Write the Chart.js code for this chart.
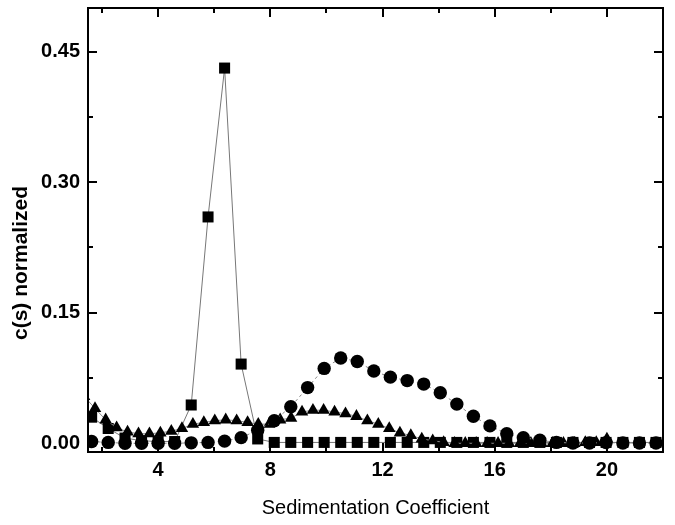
<!DOCTYPE html>
<html>
<head>
<meta charset="utf-8">
<script src="https://cdn.jsdelivr.net/npm/chart.js@4.4.1/dist/chart.umd.min.js"></script>
<style>
html,body{margin:0;padding:0;background:#fff;}
#wrap{width:675px;height:525px;}
</style>
</head>
<body>
<div id="wrap"><canvas id="c" width="675" height="525"></canvas></div>
<script>
// ---- data ----
const xTickValues = [4, 8, 12, 16, 20];
const xMinorValues = [2, 6, 10, 14, 18];
const yTickValues = [0, 0.15, 0.30, 0.45];
const yTickLabels = ['0.00', '0.15', '0.30', '0.45'];
const yMinorValues = [0.075, 0.225, 0.375];
const xTitle = 'Sedimentation Coefficient';
const yTitle = 'c(s) normalized';

// sedimentation coefficients shared by the circle and square series
const sGrid = [1.63, 2.22, 2.82, 3.41, 4.00, 4.59, 5.18, 5.78, 6.37, 6.96, 7.55, 8.14, 8.73, 9.33, 9.92,
  10.51, 11.10, 11.69, 12.28, 12.88, 13.47, 14.06, 14.65, 15.24, 15.83, 16.43, 17.02, 17.61, 18.20,
  18.79, 19.38, 19.97, 20.57, 21.16, 21.75];
const circleValues = [0.002, 0.001, 0, 0, 0, 0, 0.0005, 0.001, 0.0025, 0.0065, 0.015, 0.026, 0.042, 0.064, 0.086,
  0.098, 0.094, 0.083, 0.076, 0.072, 0.068, 0.058, 0.045, 0.031, 0.020, 0.011, 0.0065, 0.0035, 0.001,
  0.0003, 0.0003, 0.0008, 0.0003, 0.0003, 0.0003];
const squareValues = [0.030, 0.017, 0.006, 0.003, 0.002, 0.002, 0.044, 0.260, 0.431, 0.091, 0.005, 0.001, 0.001, 0.001, 0.001,
  0.001, 0.001, 0.001, 0.001, 0.001, 0.001, 0.001, 0.001, 0.001, 0.001, 0.001, 0.001, 0.001, 0.001,
  0.001, 0.001, 0.001, 0.001, 0.001, 0.001];

// triangle series
const triangleS = [1.36, 1.75, 2.13, 2.52, 2.91, 3.30, 3.69, 4.08, 4.47, 4.85, 5.24, 5.63, 6.02, 6.41, 6.80,
  7.19, 7.57, 7.96, 8.35, 8.74, 9.13, 9.52, 9.90, 10.29, 10.68, 11.07, 11.46, 11.85, 12.24, 12.62,
  13.01, 13.40, 13.79, 14.18, 14.57, 14.95, 15.34, 15.73, 16.12, 16.51, 16.90, 17.29, 17.67, 18.06,
  18.45, 18.84, 19.23, 19.62, 20.00];
const triangleValues = [0.054, 0.040, 0.027, 0.018, 0.013, 0.011, 0.011, 0.012, 0.014, 0.017, 0.022, 0.024, 0.026, 0.027, 0.026,
  0.024, 0.022, 0.022, 0.027, 0.029, 0.036, 0.038, 0.038, 0.036, 0.034, 0.031, 0.026, 0.022, 0.017, 0.012,
  0.009, 0.005, 0.003, 0.001, 0.000, 0.000, 0.000, 0.000, 0.000, 0.000, 0.000, 0.000, 0.000, 0.000,
  0.000, 0.000, 0.001, 0.001, 0.005];

// ---- chart ----
const FONT = "'Liberation Sans', Arial, Helvetica, sans-serif";
const toPoints = (xs, ys) => xs.map((x, i) => ({x: x, y: ys[i]}));

const framePlugin = {
  id: 'frame',
  afterDraw(chart) {
    const ctx = chart.ctx;
    const a = chart.chartArea;
    const xs = chart.scales.x, ys = chart.scales.y;
    ctx.save();
    ctx.strokeStyle = '#000';
    ctx.lineWidth = 2;
    ctx.strokeRect(a.left, a.top, a.right - a.left, a.bottom - a.top);
    ctx.beginPath();
    const major = 9, minor = 5;
    const xTick = (v, len) => {
      const p = Math.round(xs.getPixelForValue(v));
      ctx.moveTo(p, a.bottom); ctx.lineTo(p, a.bottom - len);
      ctx.moveTo(p, a.top); ctx.lineTo(p, a.top + len);
    };
    const yTick = (v, len) => {
      const p = Math.round(ys.getPixelForValue(v));
      ctx.moveTo(a.left, p); ctx.lineTo(a.left + len, p);
      ctx.moveTo(a.right, p); ctx.lineTo(a.right - len, p);
    };
    xTickValues.forEach(v => xTick(v, major));
    xMinorValues.forEach(v => xTick(v, minor));
    yTickValues.forEach(v => yTick(v, major));
    yMinorValues.forEach(v => yTick(v, minor));
    ctx.stroke();
    // y axis title
    ctx.translate(21, (a.top + a.bottom) / 2 + 33);
    ctx.rotate(-Math.PI / 2);
    ctx.fillStyle = '#000';
    ctx.textAlign = 'center';
    ctx.textBaseline = 'middle';
    ctx.font = 'bold 21px ' + FONT;
    ctx.fillText(yTitle, 0, 0);
    ctx.restore();
  }
};

new Chart(document.getElementById('c'), {
  type: 'scatter',
  data: {
    datasets: [
      {
        label: 'circles',
        data: toPoints(sGrid, circleValues),
        showLine: true,
        borderColor: '#8a8a8a',
        borderWidth: 1,
        borderDash: [3, 3],
        pointStyle: 'circle',
        pointRadius: 6.7,
        pointBackgroundColor: '#000',
        pointBorderColor: '#000',
        pointBorderWidth: 0
      },
      {
        label: 'triangles',
        data: toPoints(triangleS, triangleValues),
        showLine: true,
        borderColor: '#8a8a8a',
        borderWidth: 1,
        pointStyle: 'triangle',
        pointRadius: 7.2,
        pointBackgroundColor: '#000',
        pointBorderColor: '#000',
        pointBorderWidth: 0
      },
      {
        label: 'squares',
        data: toPoints(sGrid, squareValues),
        showLine: true,
        borderColor: '#777',
        borderWidth: 1,
        pointStyle: 'rect',
        pointRadius: 7.8,
        pointBackgroundColor: '#000',
        pointBorderColor: '#000',
        pointBorderWidth: 0
      }
    ]
  },
  options: {
    responsive: false,
    animation: false,
    events: [],
    layout: {padding: {left: 0, right: 12, top: 8, bottom: 0}},
    plugins: {legend: {display: false}, tooltip: {enabled: false}},
    scales: {
      x: {
        type: 'linear',
        min: 1.5,
        max: 22,
        grid: {display: false, drawTicks: false},
        border: {display: false},
        afterBuildTicks: s => { s.ticks = xTickValues.map(v => ({value: v})); },
        afterFit: s => { s.height = 73; s.paddingLeft = 0; s.paddingRight = 0; },
        ticks: {
          padding: 6,
          color: '#000',
          maxRotation: 0,
          autoSkip: false,
          font: {family: FONT, size: 20, weight: 'bold'},
          callback: v => String(v)
        },
        title: {
          display: true,
          text: xTitle,
          color: '#000',
          font: {family: FONT, size: 20, weight: 'normal'},
          padding: {top: 0, bottom: 5}
        }
      },
      y: {
        min: -0.01,
        max: 0.5,
        grid: {display: false, drawTicks: false},
        border: {display: false},
        afterBuildTicks: s => { s.ticks = yTickValues.map(v => ({value: v})); },
        afterFit: s => { s.width = 88; s.paddingTop = 0; s.paddingBottom = 0; },
        ticks: {
          padding: 8,
          color: '#000',
          autoSkip: false,
          font: {family: FONT, size: 20, weight: 'bold'},
          callback: (v, i) => yTickLabels[i]
        }
      }
    }
  },
  plugins: [framePlugin]
});
</script>
</body>
</html>
